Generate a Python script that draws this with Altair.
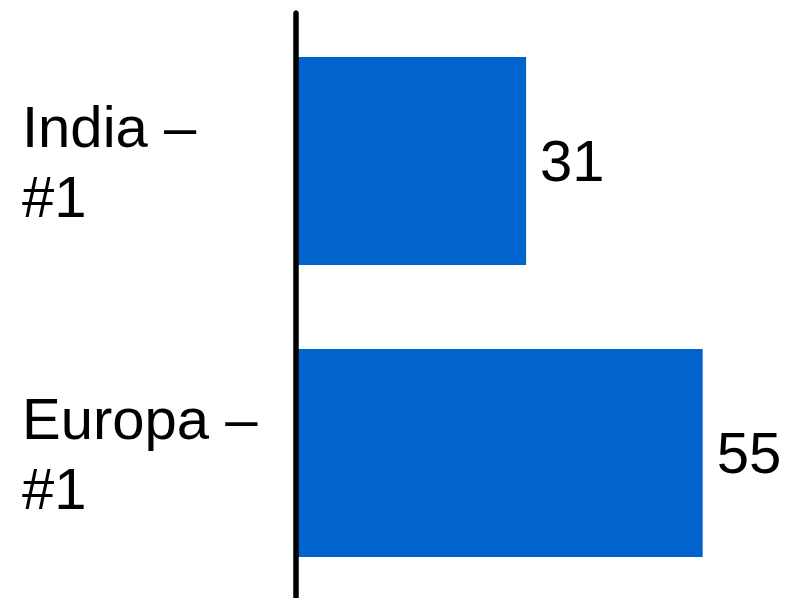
import altair as alt
import pandas as pd

categories = ["India", "Europa"]
labels = ["India –\n#1", "Europa –\n#1"]
values = [31, 55]

df = pd.DataFrame({"cat": categories, "label": labels, "value": values})

FONT = "Liberation Sans"
BLUE = "#0064CC"

y_enc = alt.Y("cat:N", sort=categories, axis=None,
              scale=alt.Scale(paddingInner=0.288, paddingOuter=0.144))
x_enc = alt.X("value:Q", axis=None, scale=alt.Scale(domain=[0, 59.8], nice=False))

base = alt.Chart(df)

bars = base.mark_bar(color=BLUE).encode(x=x_enc, y=y_enc)

values_text = base.mark_text(
    align="left", baseline="middle", dx=14, dy=3, fontSize=58, font=FONT, color="black"
).encode(x=x_enc, y=y_enc, text=alt.Text("value:Q"))

cat_text = base.mark_text(
    align="left", baseline="middle", fontSize=58, font=FONT, color="black",
    lineBreak="\n", lineHeight=70, dy=-31
).encode(x=alt.value(-276), y=y_enc, text="label:N")

axis_line = base.mark_rule(color="black", strokeWidth=5, strokeCap="round").encode(
    x=alt.value(-2), y=alt.value(-2), y2=alt.value(600)
)

chart = alt.layer(bars, axis_line, values_text, cat_text).properties(
    width=440,
    height=584,
    autosize=alt.AutoSizeParams(type="none"),
    padding={"left": 290, "top": 7, "right": 44, "bottom": 0},
).configure_view(stroke=None)

chart.save("out.html", embed_options={"renderer": "svg", "actions": False})
